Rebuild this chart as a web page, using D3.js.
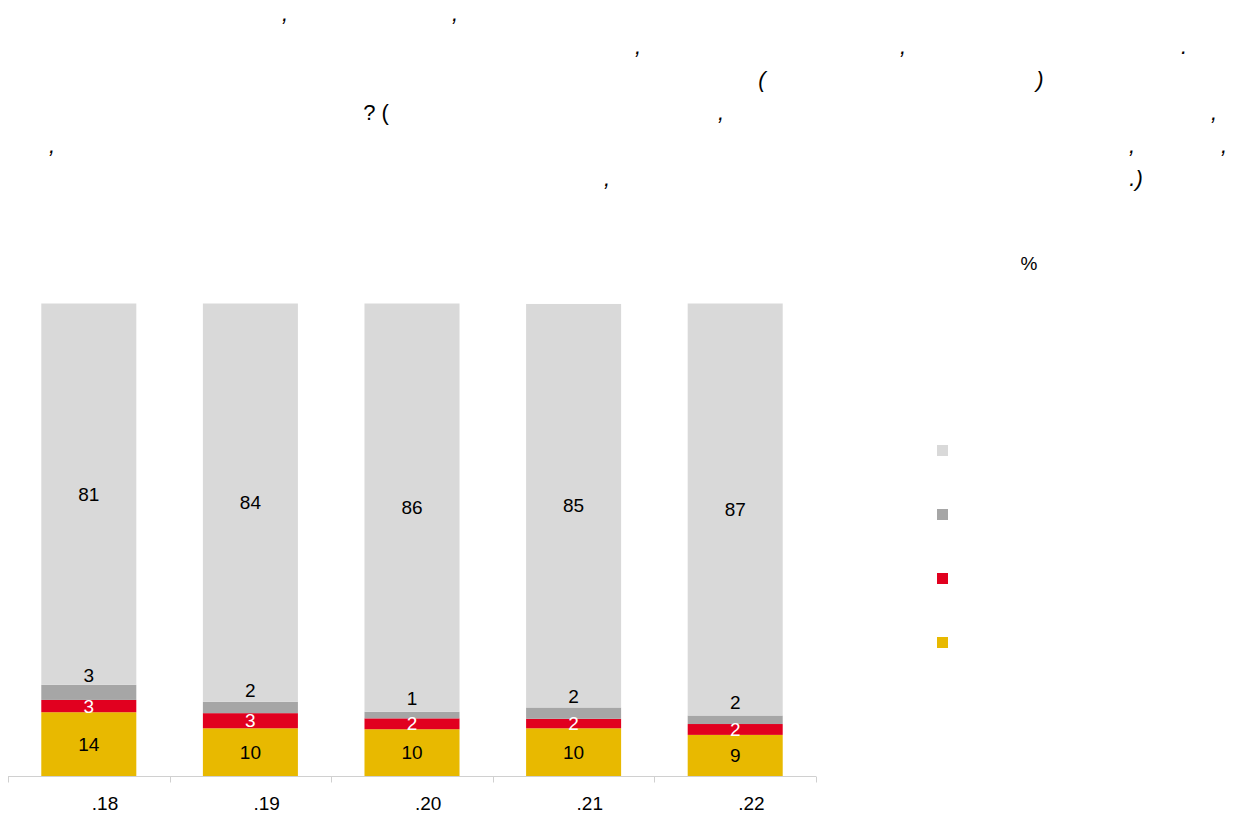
<!DOCTYPE html>
<html>
<head>
<meta charset="utf-8">
<script src="https://cdn.jsdelivr.net/npm/d3@7"></script>
<style>
  html, body { margin: 0; padding: 0; background: #fff; }
  svg { display: block; font-family: "Liberation Sans", Arial, sans-serif; }
</style>
</head>
<body>
<svg id="chart" width="1234" height="821"></svg>
<script>
// ---- data ----
const categories = [".18", ".19", ".20", ".21", ".22"];
const seriesKeys = ["s1", "s2", "s3", "s4"]; // bottom to top
const s1Values = [13.5, 10.1, 9.9, 10.1, 8.7];   // yellow
const s2Values = [2.6, 3.2, 2.3, 2.0, 2.3];      // red
const s3Values = [3.2, 2.4, 1.4, 2.4, 1.8];      // dark grey
const s4Values = [80.7, 84.3, 86.4, 85.4, 87.2]; // light grey
const seriesColors = ["#e8b900", "#e1001f", "#a6a6a6", "#d9d9d9"];
const labelColors = ["#000", "#fff", "#000", "#000"];
const legendLabels = ["", "", "", ""]; // glyphs not rendered in the source
const unitLabel = "%";
// title fragments (only the visible punctuation of the source title)
const titleLines = [
  [[",", 285], [",", 455]],
  [[",", 638], [",", 903], [".", 1184]],
  [["(", 762], [")", 1040]],
  [["? (", 376, "normal"], [",", 721], [",", 1214]],
  [[",", 52], [",", 1132], [",", 1224]],
  [[",", 607], [".)", 1136]]
];

const rows = categories.map((c, i) => ({
  cat: c, s1: s1Values[i], s2: s2Values[i], s3: s3Values[i], s4: s4Values[i]
}));

const svg = d3.select("#chart");

// title
const tg = svg.append("g").attr("font-size", 22).attr("fill", "#000");
titleLines.forEach((line, li) => {
  line.forEach(frag => {
    tg.append("text")
      .attr("x", frag[1])
      .attr("y", 21 + li * 33)
      .attr("text-anchor", "middle")
      .attr("font-style", frag[2] || "italic")
      .text(frag[0]);
  });
});

// scales
const x = d3.scaleBand().domain(categories).range([8, 816]).paddingInner(0.412).paddingOuter(0.206);
const y = d3.scaleLinear().domain([0, 100]).range([776, 303.5]);

const stacked = d3.stack().keys(seriesKeys)(rows);

const g = svg.append("g");
stacked.forEach((layer, si) => {
  g.append("g").attr("fill", seriesColors[si])
    .selectAll("rect").data(layer).join("rect")
    .attr("x", d => x(d.data.cat))
    .attr("width", x.bandwidth())
    .attr("y", d => y(d[1]))
    .attr("height", d => y(d[0]) - y(d[1]));
});

// labels
stacked.forEach((layer, si) => {
  g.append("g").attr("font-size", 19).attr("fill", labelColors[si]).attr("text-anchor", "middle")
    .selectAll("text").data(layer).join("text")
    .attr("x", d => x(d.data.cat) + x.bandwidth() / 2)
    .attr("y", d => {
      const c = (y(d[0]) + y(d[1])) / 2;
      return si === 2 ? c - 17 : c;
    })
    .attr("dy", "0.35em")
    .text(d => Math.round(d[1] - d[0]));
});

// axis
const axisY = 776.5;
const ax = svg.append("g").attr("stroke", "#d0d0d0").attr("stroke-width", 1);
ax.append("line").attr("x1", x.range()[0]).attr("x2", x.range()[1]).attr("y1", axisY).attr("y2", axisY);
const bounds = d3.range(categories.length + 1).map(i => x.range()[0] + i * x.step());
ax.selectAll("line.tick").data(bounds).join("line").attr("class", "tick")
  .attr("x1", d => Math.round(d) + 0.5).attr("x2", d => Math.round(d) + 0.5)
  .attr("y1", axisY).attr("y2", axisY + 6);

svg.append("g").attr("font-size", 19).attr("fill", "#000")
  .selectAll("text").data(categories).join("text")
  .attr("x", d => x(d) + x.bandwidth() / 2 + 3)
  .attr("y", 810)
  .attr("text-anchor", "start")
  .text(d => d);

// unit
svg.append("text").attr("x", 1029).attr("y", 270).attr("font-size", 19)
  .attr("text-anchor", "middle").text(unitLabel);

// legend (top to bottom: light grey, dark grey, red, yellow)
const legendOrder = [3, 2, 1, 0];
const lg = svg.append("g");
legendOrder.forEach((si, k) => {
  lg.append("rect").attr("x", 937).attr("y", 445 + k * 64).attr("width", 11).attr("height", 11)
    .attr("fill", seriesColors[si]);
  lg.append("text").attr("x", 956).attr("y", 451 + k * 64).attr("dy", "0.35em")
    .attr("font-size", 19).text(legendLabels[si]);
});
</script>
</body>
</html>
